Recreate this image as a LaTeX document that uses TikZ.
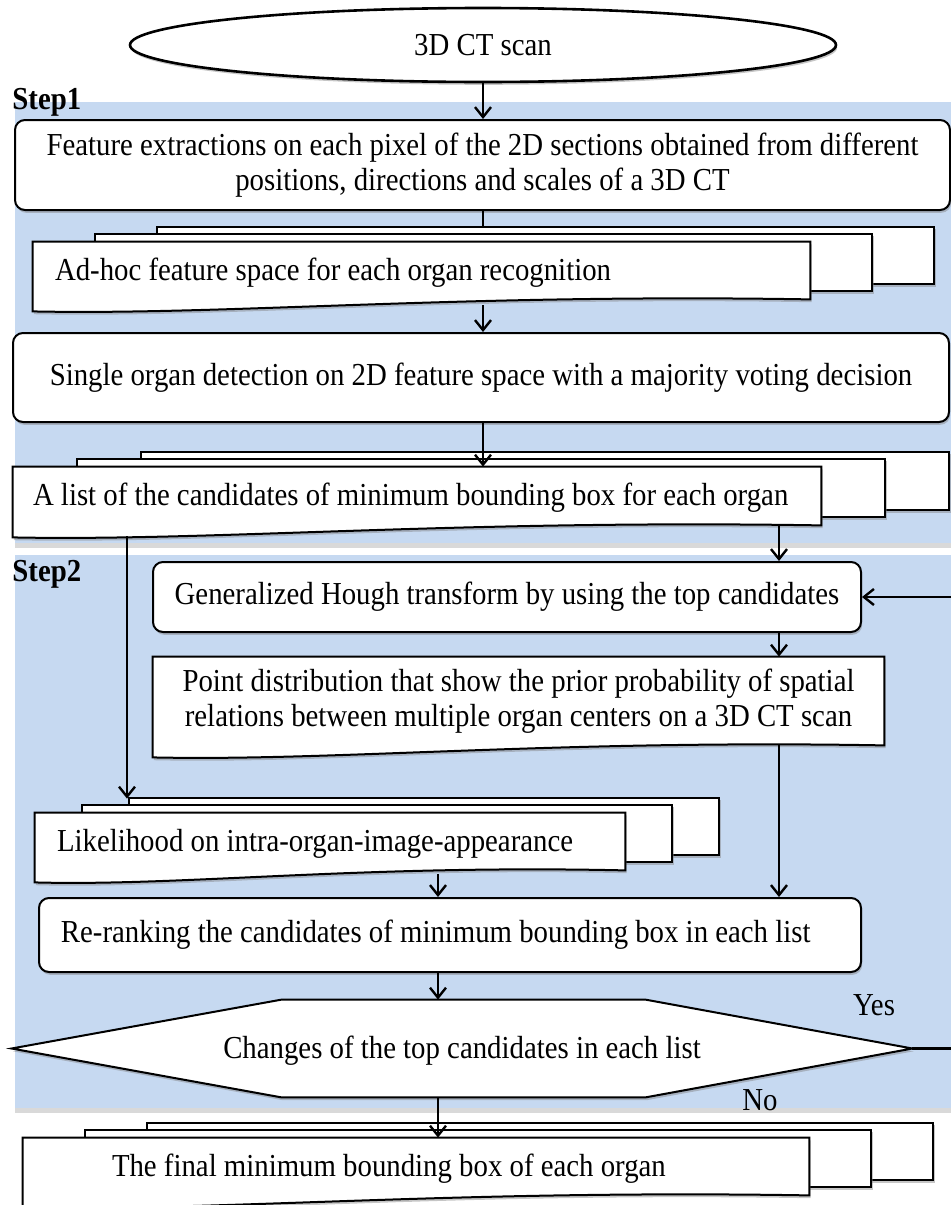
\documentclass[tikz,border=0pt]{standalone}
\usepackage{fontspec}
\setmainfont{Liberation Serif}[FakeStretch=0.9]
\usetikzlibrary{arrows.meta,calc,shapes.geometric,shadows,backgrounds}
\definecolor{stepblue}{RGB}{198,217,241}

\newcommand{\wavydoc}[1]{%
  \draw[docline] ($(#1.south west)+(0,12)$) -- (#1.north west) -- (#1.north east) -- (#1.south east)
    .. controls ($(#1.south east)!0.45!(#1.south west)+(0,-6)$) and ($(#1.south east)!0.75!(#1.south west)+(0,16)$) .. ($(#1.south west)+(0,12)$) -- cycle;}
\newcommand{\docstack}[2]{%
  \foreach \k/\dy in {2/-15,1/-8}
    \draw[docline] ($(#1.north west)+(\k*#2,\dy)$) rectangle ($(#1.south east)+(\k*#2,\dy)$);
  \wavydoc{#1}}

\begin{document}
\begin{tikzpicture}[x=0.5pt, y=-0.5pt, >={Straight Barb[length=5pt,width=8pt]},
  font=\fontsize{16pt}{17.5pt}\selectfont,
  shade/.style={drop shadow={shadow xshift=0.6pt, shadow yshift=-1.4pt, opacity=0.45}},
  procbox/.style={draw, fill=white, line width=1pt, rounded corners=5pt, shade},
  docline/.style={draw, fill=white, line width=1pt, shade},
  front/.style={align=flush left, inner xsep=11pt, inner ysep=0pt, minimum height=28.5pt, text height=13pt},
  link/.style={->, line width=1.2pt}]
  \useasboundingbox (0,0) rectangle (951,1205);

  \begin{pgfonlayer}{background}
    \fill[stepblue, drop shadow={shadow xshift=0pt, shadow yshift=-2.5pt, opacity=0.3}] (15,102) rectangle (951,543);
    \fill[stepblue, drop shadow={shadow xshift=0pt, shadow yshift=-2.5pt, opacity=0.3}] (15,555) rectangle (951,1108);
  \end{pgfonlayer}

  \coordinate (ax2) at (438,0);
  \coordinate (ax3) at (779,0);
  \coordinate (ax4) at (127,0);

  \node[ellipse, draw, fill=white, line width=1.3pt, shade, minimum width=353pt, minimum height=37pt] (scan) at (483,45) {3D CT scan};
  \node[anchor=south west, inner sep=0pt] (step1) at (12,117) {\textbf{Step1}};
  \node[procbox, align=center, minimum width=467.5pt, minimum height=45pt] (feature) at (482.5,165)
    {Feature extractions on each pixel of the 2D sections obtained from different\\positions, directions and scales of a 3D CT};
  \node[front, text width=366.5pt] (adhoc) at (421.5,270.5) {Ad-hoc feature space for each organ recognition};
  \node[procbox, minimum width=468pt, minimum height=44.5pt] (single) at (481,377.5)
    {Single organ detection on 2D feature space with a majority voting decision};
  \node[front, text width=384pt, inner xsep=10pt, minimum height=29pt] (list) at (417,496)
    {A list of the candidates of minimum bounding box for each organ};
  \node[anchor=north west, inner sep=0pt] (step2) at (12,560) {\textbf{Step2}};
  \node[procbox, minimum width=354pt, minimum height=35pt] (hough) at (507,597)
    {Generalized Hough transform by using the top candidates};
  \node[align=center, minimum width=365.5pt, minimum height=44pt] (point) at (518.5,701)
    {Point distribution that show the prior probability of spatial\\relations between multiple organ centers on a 3D CT scan};
  \node[front, text width=273pt] (like) at (330,841.5) {Likelihood on intra-organ-image-appearance};
  \node[procbox, align=flush left, text width=389pt, inner xsep=11pt, minimum height=37pt] (rerank) at (450,935)
    {Re-ranking the candidates of minimum bounding box in each list};
  \node[minimum width=450pt, minimum height=48.5pt, text height=13pt] (dec) at (462,1048.5) {Changes of the top candidates in each list};
  \node (yes) at (874,1005) {Yes};
  \node (no) at (760,1100) {No};
  \node[front, text width=304pt, inner xsep=44.5pt] (final) at (416,1166.5) {The final minimum bounding box of each organ};

  \begin{pgfonlayer}{background}
    \docstack{adhoc}{62}
    \docstack{list}{64}
    \wavydoc{point}
    \docstack{like}{47}
    \draw[docline] (dec.west) -- ($(dec.north west)+(270,0)$) -- ($(dec.north east)+(-267,0)$) -- (dec.east)
      -- ($(dec.south east)+(-267,0)$) -- ($(dec.south west)+(270,0)$) -- cycle;
    \docstack{final}{62}
  \end{pgfonlayer}

  \draw[link] (scan) -- (scan |- feature.north);
  \draw[line width=1.2pt] (feature.south -| scan) -- ($(adhoc.north -| scan)+(0,-15)$);
  \draw[link] ($(adhoc.south -| scan)+(0,6)$) -- (single.north -| scan);
  \draw[link] (single.south -| scan) -- (list.north -| scan);
  \draw[link] (list.south -| ax3) -- (hough.north -| ax3);
  \draw[link] ($(list.south -| ax4)+(0,11)$) -- ($(like.north -| ax4)+(0,-14)$);
  \draw[link] (hough.south -| ax3) -- (point.north -| ax3);
  \draw[link] (point.south -| ax3) -- (rerank.north -| ax3);
  \draw[link] ($(like.south -| ax2)+(0,4)$) -- (rerank.north -| ax2);
  \draw[link] (rerank.south -| ax2) -- (dec.north -| ax2);
  \draw[link] (dec.south -| ax2) -- (final.north -| ax2);
  \draw[link] (dec.east) -- ++(45,0) |- (hough.east);
\end{tikzpicture}
\end{document}
